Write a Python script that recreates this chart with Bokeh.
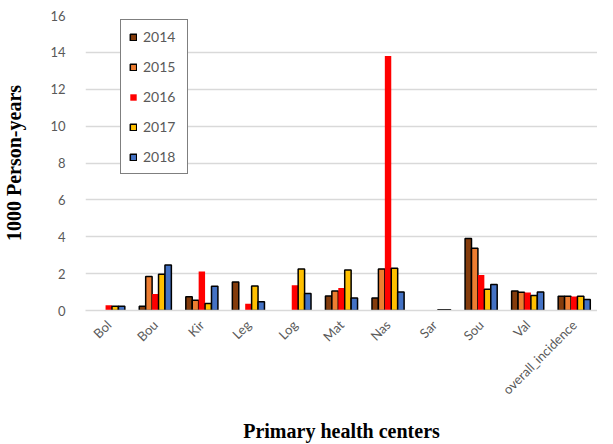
import math
from bokeh.plotting import figure
from bokeh.models import ColumnDataSource, FactorRange, Range1d, FixedTicker
from bokeh.transform import dodge
from bokeh.embed import file_html
from bokeh.resources import INLINE

nan = float("nan")
categories = ["Bol", "Bou", "Kir", "Leg", "Log", "Mat", "Nas", "Sar", "Sou", "Val", "overall_incidence"]
years = ["2014", "2015", "2016", "2017", "2018"]
y2014 = [nan, 0.23, 0.74, 1.55, nan, 0.79, 0.68, nan, 3.91, 1.06, 0.77]
y2015 = [nan, 1.84, 0.56, nan, nan, 1.06, 2.25, nan, 3.37, 0.99, 0.77]
y2016 = [0.28, 0.90, 2.11, 0.37, 1.37, 1.22, 13.8, nan, 1.93, 0.97, 0.76]
y2017 = [0.23, 1.96, 0.38, 1.33, 2.25, 2.20, 2.29, 0.04, 1.15, 0.81, 0.77]
y2018 = [0.23, 2.47, 1.31, 0.47, 0.92, 0.68, 1.01, 0.04, 1.41, 1.01, 0.59]
y_ticks = [0, 2, 4, 6, 8, 10, 12, 14, 16]

colors = ["#843c0c", "#ed7d31", "#ff0000", "#ffc000", "#4472c4"]
outlines = ["black", "black", None, "black", "black"]

src = ColumnDataSource(dict(cat=categories, y2014=y2014, y2015=y2015,
                            y2016=y2016, y2017=y2017, y2018=y2018))

p = figure(width=597, height=444, output_backend="svg", toolbar_location=None,
           x_range=FactorRange(factors=categories, range_padding=0),
           y_range=Range1d(0, 16),
           min_border_left=75, min_border_right=0, min_border_top=15, min_border_bottom=131)

bw = 0.138
offsets = [-2 * bw, -bw, 0, bw, 2 * bw]
for yr, col, oc, off in zip(years, colors, outlines, offsets):
    p.vbar(x=dodge("cat", off, range=p.x_range), top="y" + yr, width=bw, bottom=0,
           source=src, fill_color=col, line_color=oc, line_width=1.5, legend_label=yr)

p.outline_line_color = None
p.xgrid.grid_line_color = None
p.ygrid.grid_line_color = "#d9d9d9"
p.ygrid.grid_line_width = 1.3

p.yaxis.ticker = FixedTicker(ticks=y_ticks)
p.yaxis.axis_line_color = None
p.yaxis.major_tick_line_color = None
p.yaxis.minor_tick_line_color = None
p.yaxis.major_label_text_font = "Lato"
p.yaxis.major_label_text_font_size = "13px"
p.yaxis.major_label_text_color = "#595959"
p.yaxis.major_label_standoff = 14
p.yaxis.axis_label = "1000 Person-years"
p.yaxis.axis_label_text_font = "Liberation Serif"
p.yaxis.axis_label_text_font_style = "bold"
p.yaxis.axis_label_text_font_size = "20px"
p.yaxis.axis_label_text_color = "black"
p.yaxis.axis_label_standoff = 22

p.xaxis.axis_line_color = "#d9d9d9"
p.xaxis.axis_line_width = 1.3
p.xaxis.major_tick_line_color = None
p.xaxis.minor_tick_line_color = None
p.xaxis.major_label_orientation = math.pi / 4
p.xaxis.major_label_text_font = "Lato"
p.xaxis.major_label_text_font_size = "13px"
p.xaxis.major_label_text_color = "#595959"
p.xaxis.major_label_standoff = 6
p.xaxis.axis_label = "Primary health centers"
p.xaxis.axis_label_text_font = "Liberation Serif"
p.xaxis.axis_label_text_font_style = "bold"
p.xaxis.axis_label_text_font_size = "20px"
p.xaxis.axis_label_text_color = "black"
p.xaxis.axis_label_standoff = 14

lg = p.legend[0]
lg.location = (35, 136)
lg.border_line_color = "black"
lg.border_line_width = 1.5
lg.background_fill_color = "white"
lg.background_fill_alpha = 1.0
lg.label_text_font = "Lato"
lg.label_text_font_size = "14px"
lg.label_text_color = "#595959"
lg.glyph_width = 8
lg.glyph_height = 8
lg.label_height = 16
lg.label_width = 36
lg.spacing = 13
lg.padding = 8
lg.margin = 0
lg.label_standoff = 6

open("out.html", "w").write(file_html(p, INLINE))
